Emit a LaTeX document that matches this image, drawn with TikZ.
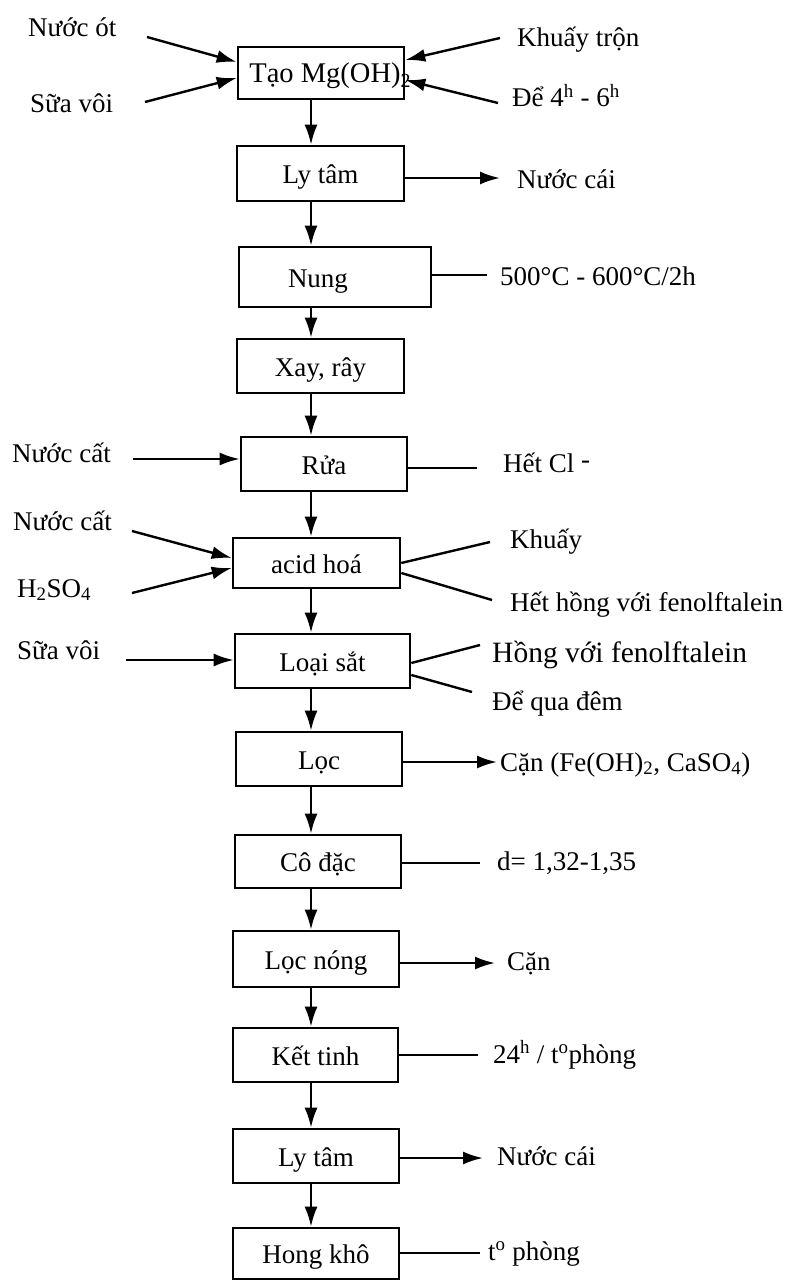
\documentclass[tikz,border=0pt]{standalone}
\usepackage{fontspec}
\setmainfont{Liberation Serif}
\usetikzlibrary{arrows.meta,calc}
\newcommand{\fsz}{\fontsize{27}{31}\selectfont}
\newcommand{\fbig}{\fontsize{29.5}{34}\selectfont}
\begin{document}
\begin{tikzpicture}[x=1pt,y=-1pt,
  box/.style={draw, line width=2.6pt, inner sep=0pt, font=\fsz, text height=24pt, text depth=4pt},
  arr/.style={line width=2.4pt, -{Latex[length=20pt,width=13pt]}},
  ln/.style={line width=2.4pt},
  lbl/.style={anchor=base west, inner sep=0pt, font=\fsz}]
\useasboundingbox (0,0) rectangle (787,1281);
\coordinate (spine) at (311,0);
% boxes
\node[box, minimum width=166pt, minimum height=52pt, font=\fontsize{28.5}{32}\selectfont] (b1) at (321,73) {\hspace*{8pt}Tạo Mg(OH)\rlap{\textsubscript{2}}};
\node[box, minimum width=167pt, minimum height=55pt] (b2) at (320.5,173.5) {Ly tâm};
\node[box, minimum width=192pt, minimum height=60pt] (b3) at (335,277) {};
\node[inner sep=0pt, font=\fsz, anchor=base] (t3) at (318,287) {Nung};
\node[box, minimum width=167pt, minimum height=54pt] (b4) at (320.5,366) {Xay, rây};
\node[box, minimum width=166pt, minimum height=54pt] (b5) at (324,464) {Rửa};
\node[box, minimum width=167pt, minimum height=50pt] (b6) at (316.5,563) {acid hoá};
\node[box, minimum width=175pt, minimum height=54pt] (b7) at (322.5,661) {Loại sắt};
\node[box, minimum width=166pt, minimum height=54pt] (b8) at (319,759) {Lọc};
\node[box, minimum width=166pt, minimum height=53pt] (b9) at (318,861.5) {Cô đặc};
\node[box, minimum width=166pt, minimum height=56pt] (b10) at (316,959) {Lọc nóng};
\node[box, minimum width=165pt, minimum height=54pt] (b11) at (315.5,1055) {Kết tinh};
\node[box, minimum width=166pt, minimum height=54pt] (b12) at (316,1156) {Ly tâm};
\node[box, minimum width=166pt, minimum height=51pt] (b13) at (316,1253.5) {Hong khô};
% vertical flow
\foreach \a/\b in {b1/b2,b2/b3,b3/b4,b4/b5,b5/b6,b6/b7,b7/b8,b8/b9,b9/b10,b10/b11,b11/b12,b12/b13}
  \draw[arr] (\a.south -| spine) -- (\b.north -| spine);
% left labels
\node[lbl] (l1) at (28,37) {Nước ót};
\node[lbl] (l2) at (30,113) {Sữa vôi};
\node[lbl] (l3) at (12,462) {Nước cất};
\node[lbl] (l4) at (13,530) {Nước cất};
\node[lbl] (l5) at (17,597) {H\textsubscript{2}SO\textsubscript{4}};
\node[lbl] (l6) at (17,659) {Sữa vôi};
% right labels
\node[lbl] (r1) at (517,47) {Khuấy trộn};
\node[lbl] (r2) at (512,107) {Để 4\textsuperscript{h} - 6\textsuperscript{h}};
\node[lbl] (r3) at (517,189) {Nước cái};
\node[lbl] (r4) at (500,285) {500°C - 600°C/2h};
\node[lbl] (r5) at (503,472) {Hết Cl \raisebox{4pt}{-}};
\node[lbl] (r6) at (510,548) {Khuấy};
\node[lbl] (r7) at (510,611) {Hết hồng với fenolftalein};
\node[lbl, font=\fbig] (r8) at (492,662) {Hồng với fenolftalein};
\node[lbl] (r9) at (492,710) {Để qua đêm};
\node[lbl] (r10) at (500,771) {Cặn (Fe(OH)\textsubscript{2}, CaSO\textsubscript{4})};
\node[lbl] (r11) at (497,870) {d= 1,32-1,35};
\node[lbl] (r12) at (507,970) {Cặn};
\node[lbl] (r13) at (493,1063) {24\textsuperscript{h} / t\textsuperscript{o}phòng};
\node[lbl] (r14) at (497,1165) {Nước cái};
\node[lbl] (r15) at (488,1260) {t\textsuperscript{o} phòng};
% free ends
\coordinate (c1) at (147,37);
\coordinate (c2) at (145,102);
\coordinate (c3) at (500,38);
\coordinate (c4) at (498,103);
\coordinate (c5) at (133,459);
\coordinate (c6) at (132,531);
\coordinate (c7) at (132,593);
\coordinate (c8) at (126,660);
\coordinate (o1) at (500,178);
\coordinate (o2) at (497,762);
\coordinate (o3) at (495,963);
\coordinate (o4) at (483,1158);
\coordinate (e1) at (487,275);
\coordinate (e2) at (477,468);
\coordinate (e3) at (490,542);
\coordinate (e4) at (492,600);
\coordinate (e5) at (480,645);
\coordinate (e6) at (472,692);
\coordinate (e7) at (480,863);
\coordinate (e8) at (478,1055);
\coordinate (e9) at (480,1253);
% input arrows
\draw[arr] (c1) -- ([yshift=11pt]b1.west);
\draw[arr] (c2) -- ([yshift=-5pt]b1.west);
\draw[arr] (c3) -- ([yshift=13pt]b1.east);
\draw[arr] (c4) -- ([yshift=-7pt]b1.east);
\draw[arr] (c5) -- ([yshift=5pt]b5.west);
\draw[arr] (c6) -- ([yshift=5pt]b6.west);
\draw[arr] (c7) -- ([yshift=-5pt]b6.west);
\draw[arr] (c8) -- ([yshift=1pt]b7.west);
% output arrows
\draw[arr] (b2.east |- o1) -- (o1);
\draw[arr] (b8.east |- o2) -- (o2);
\draw[arr] (b10.east |- o3) -- (o3);
\draw[arr] (b12.east |- o4) -- (o4);
% condition lines
\draw[ln] (b3.east |- e1) -- (e1);
\draw[ln] (b5.east |- e2) -- (e2);
\draw[ln] (b6.east) -- (e3);
\draw[ln] ([yshift=-10pt]b6.east) -- (e4);
\draw[ln] ([yshift=-2pt]b7.east) -- (e5);
\draw[ln] ([yshift=-14pt]b7.east) -- (e6);
\draw[ln] (b9.east |- e7) -- (e7);
\draw[ln] (b11.east |- e8) -- (e8);
\draw[ln] (b13.east |- e9) -- (e9);
\end{tikzpicture}
\end{document}
